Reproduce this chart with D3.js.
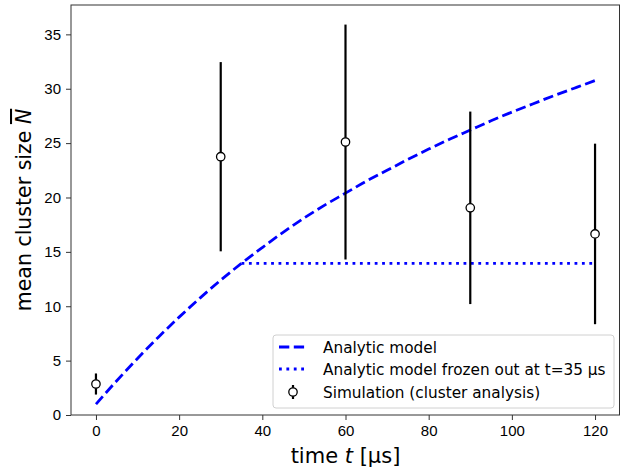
<!DOCTYPE html>
<html>
<head>
<meta charset="utf-8">
<script src="https://cdn.jsdelivr.net/npm/d3@7"></script>
<style>
  body { margin: 0; background: #fff; }
  svg { font-family: "DejaVu Sans", sans-serif; }
</style>
</head>
<body>
<svg id="chart"></svg>
<script>
const width = 621;
const height = 467;

// analytic model
const modelTime = [0, 5, 10, 15, 20, 25, 30, 35, 40, 45, 50, 55, 60, 65, 70, 75, 80, 85, 90, 95, 100, 105, 110, 115, 120];
const modelN = [1.0, 3.15, 5.2, 7.15, 9.0, 10.75, 12.4, 13.95, 15.4, 16.8, 18.1, 19.3, 20.4, 21.5, 22.5, 23.5, 24.45, 25.35, 26.2, 27.05, 27.85, 28.6, 29.35, 30.05, 30.75];

// frozen-out model (constant after t = 35)
const frozenTime = [35, 120];
const frozenN = [13.95, 13.95];

// simulation points with error
const simTime = [0, 30, 60, 90, 120];
const simN = [2.85, 23.75, 25.1, 19.05, 16.65];
const simErr = [0.97, 8.7, 10.8, 8.85, 8.3];

const xTicks = [0, 20, 40, 60, 80, 100, 120];
const yTicks = [0, 5, 10, 15, 20, 25, 30, 35];

const legendLabels = ['Analytic model', 'Analytic model frozen out at t=35 \u00b5s', 'Simulation (cluster analysis)'];

const margin = { left: 71, right: 1, top: 5, bottom: 52 };

const svg = d3.select('#chart')
    .attr('width', width)
    .attr('height', height);

const x = d3.scaleLinear().domain([-6, 126]).range([margin.left, width - margin.right]);
const y = d3.scaleLinear().domain([0, 37.7]).range([height - margin.bottom, margin.top]);

// axes
const xAxis = svg.append('g')
    .attr('transform', `translate(0,${height - margin.bottom})`)
    .call(d3.axisBottom(x).tickValues(xTicks).tickSize(5).tickPadding(5).tickFormat(d3.format('d')));
const yAxis = svg.append('g')
    .attr('transform', `translate(${margin.left},0)`)
    .call(d3.axisLeft(y).tickValues(yTicks).tickSize(5).tickPadding(5).tickFormat(d3.format('d')));

[xAxis, yAxis].forEach(a => {
    a.select('.domain').remove();
    a.selectAll('text').style('font-size', '15px').attr('fill', '#000');
    a.selectAll('line').attr('stroke', '#333');
});

// frame
svg.append('rect')
    .attr('x', margin.left)
    .attr('y', margin.top)
    .attr('width', width - margin.left - margin.right - 0.5)
    .attr('height', height - margin.top - margin.bottom)
    .attr('fill', 'none')
    .attr('stroke', '#333')
    .attr('stroke-width', 1);

const plot = svg.append('g');

const line = d3.line().x(d => x(d[0])).y(d => y(d[1]));

plot.append('path')
    .datum(modelTime.map((t, i) => [t, modelN[i]]))
    .attr('d', line.curve(d3.curveMonotoneX))
    .attr('fill', 'none')
    .attr('stroke', '#0000ff')
    .attr('stroke-width', 2.8)
    .attr('stroke-dasharray', '10.3,4.5');

plot.append('path')
    .datum(frozenTime.map((t, i) => [t, frozenN[i]]))
    .attr('d', line.curve(d3.curveLinear))
    .attr('fill', 'none')
    .attr('stroke', '#0000ff')
    .attr('stroke-width', 2.8)
    .attr('stroke-dasharray', '2.8,4.6');

// error bars
const sim = simTime.map((t, i) => ({ t: t, n: simN[i], e: simErr[i] }));
plot.selectAll('.err')
    .data(sim)
    .enter().append('line')
    .attr('x1', d => x(d.t))
    .attr('x2', d => x(d.t))
    .attr('y1', d => y(d.n - d.e))
    .attr('y2', d => y(d.n + d.e))
    .attr('stroke', '#000')
    .attr('stroke-width', 2.2);

plot.selectAll('.pt')
    .data(sim)
    .enter().append('circle')
    .attr('cx', d => x(d.t))
    .attr('cy', d => y(d.n))
    .attr('r', 4.2)
    .attr('fill', '#fff')
    .attr('stroke', '#000')
    .attr('stroke-width', 1.3);

// axis labels
svg.append('text')
    .attr('x', (margin.left + width - margin.right) / 2)
    .attr('y', 463)
    .attr('text-anchor', 'middle')
    .style('font-size', '21px')
    .html('time <tspan font-style="italic">t</tspan> [\u00b5s]');

const yl = svg.append('text')
    .attr('transform', `translate(31,${(margin.top + height - margin.bottom) / 2}) rotate(-90)`)
    .attr('text-anchor', 'middle')
    .style('font-size', '20.5px');
yl.append('tspan').text('mean cluster size ');
yl.append('tspan').attr('font-style', 'italic').style('text-decoration', 'overline').text('N');

// legend
const lg = svg.append('g').attr('transform', 'translate(273,335)');
lg.append('rect')
    .attr('width', 341)
    .attr('height', 73)
    .attr('rx', 3)
    .attr('fill', '#fff')
    .attr('fill-opacity', 0.8)
    .attr('stroke', '#d0d0d0');

const rows = [12, 34, 57];
lg.append('line').attr('x1', 6).attr('x2', 34).attr('y1', rows[0]).attr('y2', rows[0])
    .attr('stroke', '#0000ff').attr('stroke-width', 2.8).attr('stroke-dasharray', '10.3,4.5');
lg.append('line').attr('x1', 6).attr('x2', 34).attr('y1', rows[1]).attr('y2', rows[1])
    .attr('stroke', '#0000ff').attr('stroke-width', 2.8).attr('stroke-dasharray', '2.8,4.6');
lg.append('line').attr('x1', 20).attr('x2', 20).attr('y1', rows[2] - 7).attr('y2', rows[2] + 7)
    .attr('stroke', '#000').attr('stroke-width', 2.2);
lg.append('circle').attr('cx', 20).attr('cy', rows[2]).attr('r', 4.2)
    .attr('fill', '#fff').attr('stroke', '#000').attr('stroke-width', 1.3);

lg.selectAll('.lt')
    .data(legendLabels)
    .enter().append('text')
    .attr('x', 50)
    .attr('y', (d, i) => rows[i] + 5.5)
    .style('font-size', '15.3px')
    .text(d => d);
</script>
</body>
</html>
